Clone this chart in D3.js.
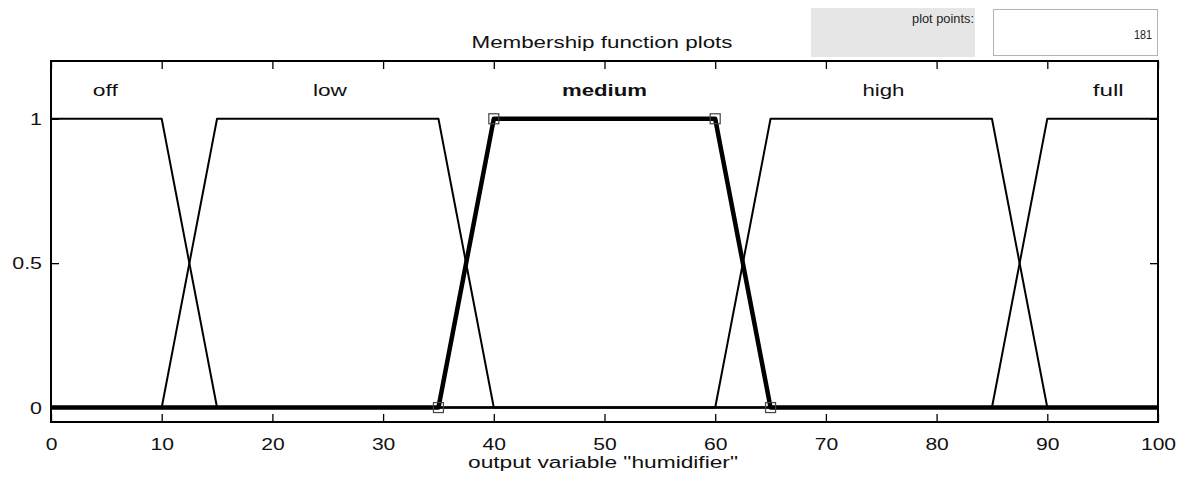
<html>
<head>
<script src="https://cdn.jsdelivr.net/npm/d3@7"></script>
<style>
  body { margin: 0; background: #fff; }
  svg text { font-family: "Liberation Sans", Arial, sans-serif; }
</style>
</head>
<body>
<svg id="svg" width="1190" height="479"></svg>
<script>
// membership functions (trapezoid params a,b,c,d)
var mfNames = ["off", "low", "medium", "high", "full"];
var mfParams = [
  [-10, -5, 10, 15],
  [10, 15, 35, 40],
  [35, 40, 60, 65],
  [60, 65, 85, 90],
  [85, 90, 105, 110]
];
var labelX = [4.9, 25.2, 50, 75.2, 95.5];
var labelW = [25, 34, 85, 42, 31];
var selected = 2;
var xTicks = [0, 10, 20, 30, 40, 50, 60, 70, 80, 90, 100];
var yTicks = [0, 0.5, 1];
var plotPoints = 181;

var svg = d3.select("svg");
var plotL = 51, plotR = 1158, plotT = 61, plotB = 422;

var x = d3.scaleLinear().domain([0, 100]).range([plotL, plotR]);
var y = d3.scaleLinear().domain([-0.05, 1.2]).range([plotB, plotT]);

function trapmf(v, p) {
  var a = p[0], b = p[1], c = p[2], d = p[3];
  var up = b === a ? 1 : (v - a) / (b - a);
  var down = d === c ? 1 : (d - v) / (d - c);
  return Math.max(0, Math.min(up, 1, down));
}

// widen glyphs like the original renderer
function stretch(sel, k) {
  sel.each(function() {
    var len = this.getComputedTextLength();
    d3.select(this).attr("textLength", len * k).attr("lengthAdjust", "spacingAndGlyphs");
  });
}

// header controls
svg.append("rect").attr("x", 811).attr("y", 8).attr("width", 164).attr("height", 49)
  .attr("fill", "#e6e6e6");
svg.append("text").attr("x", 974).attr("y", 23).attr("text-anchor", "end")
  .attr("font-size", 12).attr("fill", "#222")
  .attr("textLength", 62).attr("lengthAdjust", "spacingAndGlyphs").text("plot points:");
svg.append("rect").attr("x", 993.5).attr("y", 9.5).attr("width", 164).attr("height", 46)
  .attr("fill", "#fff").attr("stroke", "#b4b4b4");
svg.append("text").attr("x", 1152).attr("y", 39).attr("text-anchor", "end")
  .attr("font-size", 13).attr("fill", "#222")
  .attr("textLength", 18).attr("lengthAdjust", "spacingAndGlyphs").text(plotPoints);

svg.append("text").attr("x", 602).attr("y", 48).attr("text-anchor", "middle")
  .attr("font-size", 16).attr("fill", "#111")
  .attr("textLength", 261).attr("lengthAdjust", "spacingAndGlyphs")
  .text("Membership function plots");

// axes
svg.append("g").attr("transform", "translate(0," + plotB + ")")
  .call(d3.axisBottom(x).tickValues(xTicks).tickSizeInner(-8).tickSizeOuter(0).tickPadding(16))
  .call(function(g) {
    g.select(".domain").remove();
    g.selectAll("line").attr("stroke-width", 1.3);
    g.selectAll("text").attr("font-size", 17).attr("fill", "#111")
      .attr("font-family", "Liberation Sans, Arial, sans-serif").call(stretch, 1.24);
  });
svg.append("g").attr("transform", "translate(0," + plotT + ")")
  .call(d3.axisTop(x).tickValues(xTicks).tickSizeInner(-8).tickSizeOuter(0).tickFormat(""))
  .call(function(g) { g.select(".domain").remove(); g.selectAll("line").attr("stroke-width", 1.3); });
svg.append("g").attr("transform", "translate(" + plotL + ",0)")
  .call(d3.axisLeft(y).tickValues(yTicks).tickSizeInner(-8).tickSizeOuter(0).tickPadding(9).tickFormat(d3.format("")))
  .call(function(g) {
    g.select(".domain").remove();
    g.selectAll("line").attr("stroke-width", 1.3);
    g.selectAll("text").attr("font-size", 17).attr("fill", "#111")
      .attr("font-family", "Liberation Sans, Arial, sans-serif").call(stretch, 1.26);
  });
svg.append("g").attr("transform", "translate(" + plotR + ",0)")
  .call(d3.axisRight(y).tickValues(yTicks).tickSizeInner(-8).tickSizeOuter(0).tickFormat(""))
  .call(function(g) { g.select(".domain").remove(); g.selectAll("line").attr("stroke-width", 1.3); });

svg.append("rect").attr("x", plotL).attr("y", plotT).attr("width", plotR - plotL).attr("height", plotB - plotT)
  .attr("fill", "none").attr("stroke", "#000").attr("stroke-width", 2);

// curves
var xs = d3.range(plotPoints).map(function(i) { return i * 100 / (plotPoints - 1); });
var line = d3.line().x(function(d) { return x(d[0]); }).y(function(d) { return y(d[1]); });

mfParams.forEach(function(p, i) {
  var pts = xs.map(function(v) { return [v, trapmf(v, p)]; });
  svg.append("path").datum(pts).attr("d", line)
    .attr("fill", "none").attr("stroke", "#000")
    .attr("stroke-width", i === selected ? 4.5 : 2)
    .attr("stroke-linejoin", "round");
  svg.append("text").attr("x", x(labelX[i])).attr("y", 96).attr("text-anchor", "middle")
    .attr("font-size", 16).attr("font-weight", i === selected ? "bold" : "normal")
    .attr("fill", "#111")
    .attr("textLength", labelW[i]).attr("lengthAdjust", "spacingAndGlyphs")
    .text(mfNames[i]);
});

// handles on selected
var sp = mfParams[selected];
var handles = [[sp[0], 0], [sp[1], 1], [sp[2], 1], [sp[3], 0]];
svg.selectAll(".handle").data(handles).enter().append("rect")
  .attr("x", function(d) { return x(d[0]) - 5; })
  .attr("y", function(d) { return y(d[1]) - 5; })
  .attr("width", 10).attr("height", 10)
  .attr("fill", "none").attr("stroke", "#444").attr("stroke-width", 1.2);

svg.append("text").attr("x", 603).attr("y", 468).attr("text-anchor", "middle")
  .attr("font-size", 16).attr("fill", "#111")
  .attr("textLength", 270).attr("lengthAdjust", "spacingAndGlyphs")
  .text("output variable \"humidifier\"");
</script>
</body>
</html>
